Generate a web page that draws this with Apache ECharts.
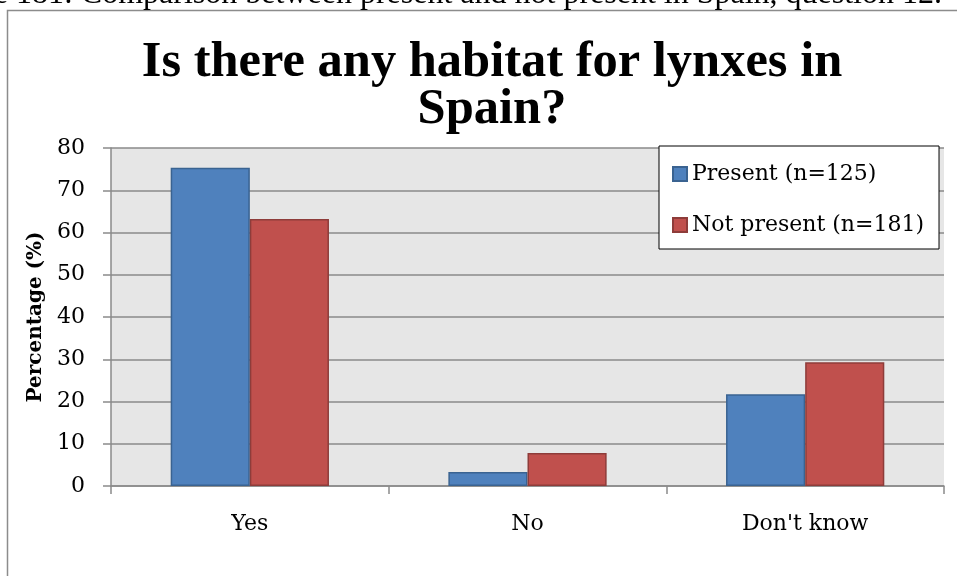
<!DOCTYPE html>
<html>
<head>
<meta charset="utf-8">
<script src="https://cdn.jsdelivr.net/npm/echarts@6/dist/echarts.min.js"></script>
<style>
html,body{margin:0;padding:0;background:#fff;}
#chart{width:957px;height:576px;}
</style>
</head>
<body>
<div id="chart"></div>
<script>
const categories = ["Yes", "No", "Don't know"];
const presentValues = [75.3, 3.3, 21.7];
const notPresentValues = [63.2, 7.8, 29.3];
const seriesNames = ["Present (n=125)", "Not present (n=181)"];
const yTicks = [0, 10, 20, 30, 40, 50, 60, 70, 80];
const titleText = "Is there any habitat for lynxes in\nSpain?";
const captionText = "Figure 181: Comparison between present and not present in Spain, question 12.";

const chart = echarts.init(document.getElementById('chart'), null, {renderer: 'canvas'});
const serif = "DejaVu Serif";
const gridColor = "#8a8a8a";

chart.setOption({
  animation: false,
  backgroundColor: '#ffffff',
  title: {
    text: titleText,
    left: 487,
    top: 34,
    textAlign: 'center',
    textStyle: {
      fontFamily: 'Liberation Serif',
      fontWeight: 'bold',
      fontSize: 50.5,
      lineHeight: 47,
      color: '#000'
    }
  },
  graphic: [
    {
      type: 'rect',
      z: -10,
      shape: {x: 7.5, y: 10.5, width: 1000, height: 1000},
      style: {fill: 'none', stroke: '#8c8c8c', lineWidth: 1.5}
    },
    {
      type: 'text',
      z: 10,
      x: 942,
      y: -5,
      style: {
        text: captionText,
        fontFamily: 'Liberation Serif',
        fontSize: 32,
        fill: '#000',
        align: 'right',
        verticalAlign: 'middle'
      }
    }
  ],
  legend: {
    orient: 'vertical',
    left: 659,
    top: 146,
    backgroundColor: '#fff',
    borderColor: '#000',
    borderWidth: 1,
    padding: [17, 15, 13, 13],
    itemWidth: 14,
    itemHeight: 14,
    itemGap: 29,
    icon: 'rect',
    textStyle: {fontFamily: serif, fontSize: 22, color: '#000'},
    data: seriesNames
  },
  grid: {
    left: 111,
    right: 13,
    top: 148,
    bottom: 90,
    show: true,
    backgroundColor: '#e6e6e6',
    borderWidth: 0,
    containLabel: false
  },
  xAxis: {
    type: 'category',
    data: categories,
    boundaryGap: true,
    axisLine: {show: true, lineStyle: {color: gridColor, width: 1.5}},
    axisTick: {show: true, length: 8, alignWithLabel: false, lineStyle: {color: gridColor, width: 1.5}},
    axisLabel: {fontFamily: serif, fontSize: 22, color: '#000', margin: 27},
    splitLine: {show: false}
  },
  yAxis: {
    type: 'value',
    min: yTicks[0],
    max: yTicks[yTicks.length - 1],
    interval: yTicks[1] - yTicks[0],
    name: 'Percentage (%)',
    nameLocation: 'middle',
    nameRotate: 90,
    nameGap: 64,
    nameTextStyle: {fontFamily: serif, fontWeight: 'bold', fontSize: 20, color: '#000'},
    axisLine: {show: true, lineStyle: {color: gridColor, width: 1.5}},
    axisTick: {show: true, length: 8, inside: false, lineStyle: {color: gridColor, width: 1.5}},
    axisLabel: {fontFamily: serif, fontSize: 22, color: '#000', margin: 26},
    splitLine: {show: true, lineStyle: {color: gridColor, width: 1.5}}
  },
  series: [
    {
      name: seriesNames[0],
      type: 'bar',
      data: presentValues,
      barGap: '0%',
      barCategoryGap: '43%',
      itemStyle: {color: '#4f81bd', borderColor: '#3a6391', borderWidth: 1.5}
    },
    {
      name: seriesNames[1],
      type: 'bar',
      data: notPresentValues,
      barGap: '0%',
      barCategoryGap: '43%',
      itemStyle: {color: '#c0504d', borderColor: '#8e3c3a', borderWidth: 1.5}
    }
  ]
});
</script>
</body>
</html>
